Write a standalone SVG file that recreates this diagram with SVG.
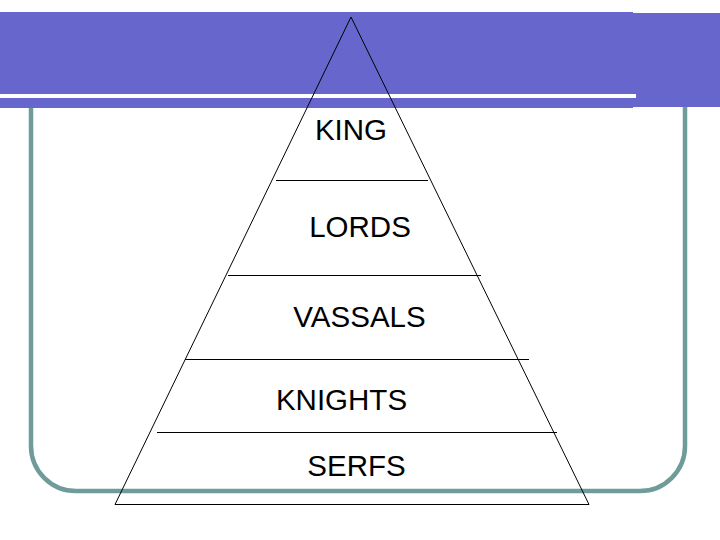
<svg xmlns="http://www.w3.org/2000/svg" width="720" height="540" viewBox="0 0 720 540">
<style>
.lbl{font-family:"Liberation Sans",Arial,sans-serif;font-size:29.5px;fill:#000;text-anchor:middle}
.ln{stroke:#000;stroke-width:1;fill:none}
</style>
<rect width="720" height="540" fill="#fff"/>
<g id="frame">
<path d="M31,60 V446 A45,45 0 0 0 76,491 H640 A45,45 0 0 0 685,446 V60" fill="none" stroke="#6f9c9a" stroke-width="4.5"/>
</g>
<g id="banner">
<rect x="0" y="12" width="633" height="96" fill="#6666cc"/>
<rect x="633" y="13" width="87" height="94" fill="#6666cc"/>
<rect x="0" y="94" width="636" height="4" fill="#fff"/>
</g>
<g id="pyramid">
<polygon points="351,17 115,504.5 589,504.5" class="ln"/>
</g>
<g id="connectors">
<line x1="276" y1="180.5" x2="428" y2="180.5" class="ln"/>
<line x1="228" y1="275.5" x2="481" y2="275.5" class="ln"/>
<line x1="185" y1="359.5" x2="529" y2="359.5" class="ln"/>
<line x1="157" y1="432.5" x2="557" y2="432.5" class="ln"/>
</g>
<g id="king"><text class="lbl" x="351" y="140">KING</text></g>
<g id="lords"><text class="lbl" x="360" y="237">LORDS</text></g>
<g id="vassals"><text class="lbl" x="359.5" y="327">VASSALS</text></g>
<g id="knights"><text class="lbl" x="341.5" y="410">KNIGHTS</text></g>
<g id="serfs"><text class="lbl" x="356.5" y="476">SERFS</text></g>
</svg>
